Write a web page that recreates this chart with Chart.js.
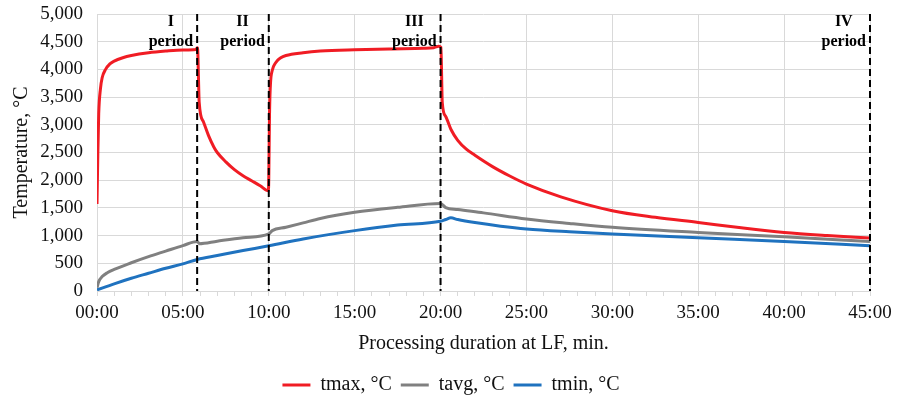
<!DOCTYPE html>
<html>
<head>
<meta charset="utf-8">
<script src="https://cdn.jsdelivr.net/npm/chart.js@4/dist/chart.umd.min.js"></script>
<style>
  html, body { margin: 0; padding: 0; background: #fff; }
</style>
</head>
<body>
<canvas id="tempChart" width="906" height="396"></canvas>
<script>
// Time is in minutes from start of LF processing
const tmaxTime = [0, 0.05, 0.1, 0.2, 0.3, 0.5, 0.75, 1, 1.5, 2, 3, 4, 5, 5.75, 5.85, 5.95, 6.2, 6.5, 6.8, 7, 7.5, 8, 8.5, 9, 9.5, 9.98,
  10.05, 10.1, 10.2, 10.4, 10.7, 11, 12, 13, 15, 17, 19, 19.6, 19.9, 20.02, 20.1, 20.3, 20.6, 21, 21.5, 22, 23, 24, 25, 27, 30, 32.5, 35, 37.5, 40, 42.5, 45];
const tmaxValues = [1570, 2500, 3200, 3650, 3850, 4000, 4100, 4150, 4210, 4250, 4300, 4330, 4350, 4360, 4390, 3400, 3050, 2800, 2600, 2500, 2330, 2190, 2080, 1990, 1900, 1810,
  3300, 3750, 3980, 4120, 4210, 4250, 4300, 4330, 4355, 4370, 4380, 4390, 4420, 4400, 3400, 3150, 2920, 2720, 2560, 2450, 2250, 2080, 1930, 1700, 1450, 1330, 1237, 1140, 1056, 1000, 955];

const tavgTime = [0, 0.1, 0.3, 0.6, 1, 2, 3, 4, 5, 5.84, 5.95, 7, 8.5, 10, 10.2, 11, 12, 13, 15, 17.5, 20, 20.3, 21, 22.5, 25, 27.5, 30, 35, 40, 45];
const tavgValues = [60, 170, 260, 330, 390, 510, 620, 720, 820, 893, 855, 900, 960, 1030, 1090, 1150, 1230, 1310, 1420, 1510, 1580, 1505, 1470, 1410, 1300, 1220, 1150, 1057, 978, 893];

const tminTime = [0, 1, 2, 3, 4, 5, 5.84, 7, 8.5, 10, 12, 15, 17.5, 20, 20.3, 20.6, 21, 22, 23.5, 25, 27.5, 30, 35, 40, 45];
const tminValues = [20, 130, 230, 320, 410, 490, 570, 640, 730, 815, 940, 1090, 1190, 1260, 1290, 1320, 1290, 1235, 1170, 1120, 1070, 1030, 960, 895, 815];

const periodLines = [5.83, 10, 20, 45];
const periodNames = ['I', 'II', 'III', 'IV'];

const serif = '"Liberation Serif", "Times New Roman", serif';
const textColor = '#111';
const gridColor = '#d9d9d9';

function toPoints(times, values) {
  return times.map((t, i) => ({ x: t, y: values[i] }));
}

function fmtTime(v) {
  return String(v).padStart(2, '0') + ':00';
}

// dashed period borders and their labels
const periodPlugin = {
  id: 'periods',
  afterDatasetsDraw(chart) {
    const { ctx, chartArea, scales: { x } } = chart;
    ctx.save();
    ctx.strokeStyle = '#000';
    ctx.lineWidth = 2;
    ctx.setLineDash([7, 4]);
    ctx.font = 'bold 16px ' + serif;
    ctx.fillStyle = '#000';
    ctx.textAlign = 'center';
    ctx.textBaseline = 'middle';
    periodLines.forEach((m, i) => {
      const px = x.getPixelForValue(m);
      ctx.beginPath();
      ctx.moveTo(px, chartArea.top);
      ctx.lineTo(px, chartArea.bottom);
      ctx.stroke();
      const w = ctx.measureText('period').width;
      const cx = px - 4 - w / 2;
      ctx.fillText(periodNames[i], cx, chartArea.top + 8);
      ctx.fillText('period', cx, chartArea.top + 28);
    });
    ctx.restore();
  }
};

const ctx = document.getElementById('tempChart').getContext('2d');
const tempChart = new Chart(ctx, {
  type: 'line',
  data: {
    datasets: [{
      label: 'tmax, °C',
      data: toPoints(tmaxTime, tmaxValues),
      borderColor: '#f01c24',
      backgroundColor: '#f01c24'
    }, {
      label: 'tavg, °C',
      data: toPoints(tavgTime, tavgValues),
      borderColor: '#808080',
      backgroundColor: '#808080'
    }, {
      label: 'tmin, °C',
      data: toPoints(tminTime, tminValues),
      borderColor: '#1f72bf',
      backgroundColor: '#1f72bf'
    }]
  },
  options: {
    responsive: false,
    animation: false,
    elements: {
      point: { radius: 0 },
      line: { borderWidth: 3, cubicInterpolationMode: 'monotone', fill: false }
    },
    layout: { padding: { left: 32, right: 36, top: 14, bottom: -9 } },
    scales: {
      x: {
        type: 'linear',
        min: 0,
        max: 45,
        ticks: {
          stepSize: 1,
          autoSkip: false,
          maxRotation: 0,
          padding: 6,
          color: textColor,
          font: { family: serif, size: 19 },
          callback: v => (v % 5 === 0 ? fmtTime(v) : '')
        },
        grid: {
          color: c => (c.tick && c.tick.value % 5 === 0 ? gridColor : 'rgba(0,0,0,0)'),
          tickColor: gridColor,
          tickLength: 5
        },
        border: { color: gridColor },
        title: {
          display: true,
          text: 'Processing duration at LF, min.',
          color: textColor,
          font: { family: serif, size: 20 },
          padding: { top: 2, bottom: 10 }
        },
        afterFit: s => { s.height = 75; }
      },
      y: {
        min: 0,
        max: 5000,
        ticks: {
          stepSize: 500,
          padding: 2,
          color: textColor,
          font: { family: serif, size: 19 },
          callback: v => v.toLocaleString('en-US')
        },
        grid: { color: gridColor, tickColor: 'rgba(0,0,0,0)', tickLength: 12 },
        border: { display: false },
        title: {
          display: true,
          text: 'Temperature, °C',
          color: textColor,
          font: { family: serif, size: 20 },
          padding: { top: -22, bottom: 2 }
        },
        afterFit: s => { s.width = 65; }
      }
    },
    plugins: {
      legend: {
        position: 'bottom',
        labels: {
          color: textColor,
          font: { family: serif, size: 20 },
          boxWidth: 28,
          boxHeight: 3,
          padding: 9,
          generateLabels: chart =>
            Chart.defaults.plugins.legend.labels.generateLabels(chart).map(l => ({ ...l, lineWidth: 0 }))
        }
      },
      tooltip: { enabled: false }
    }
  },
  plugins: [periodPlugin]
});
</script>
</body>
</html>
